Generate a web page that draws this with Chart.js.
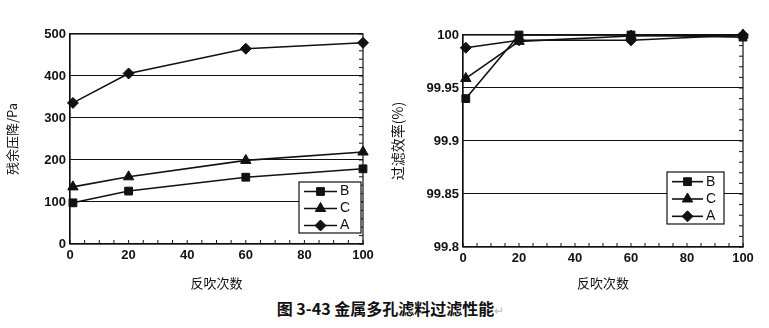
<!DOCTYPE html>
<html><head><meta charset="utf-8">
<script src="https://cdn.jsdelivr.net/npm/chart.js@4/dist/chart.umd.min.js"></script>
<style>
html,body{margin:0;padding:0;background:#fff;}
#wrap{position:relative;width:769px;height:328px;overflow:hidden;background:#fff;}
#c1{position:absolute;left:0;top:0;}
#c2{position:absolute;left:385px;top:0;}
#cap{position:absolute;left:6px;width:769px;top:296px;text-align:center;font-family:"Noto Sans CJK SC";font-weight:700;font-size:16px;color:#111;}
#cap span{color:#bbb;font-weight:400;font-size:12px;}
</style></head><body>
<div id="wrap">
<canvas id="c1" width="385" height="295"></canvas>
<canvas id="c2" width="384" height="295"></canvas>
<div id="cap">图 3-43 金属多孔滤料过滤性能<span>↵</span></div>
</div>
<script>
const blowCounts = [1, 20, 60, 100];
const xTickLabels = ['0', '20', '40', '60', '80', '100'];
const seriesNames = ['B', 'C', 'A'];
const pressureB = [98, 126, 159, 179];
const pressureC = [136, 160, 199, 219];
const pressureA = [336, 406, 465, 479];
const pressureTicks = ['0', '100', '200', '300', '400', '500'];
const effB = [99.940, 100.000, 100.000, 99.998];
const effC = [99.959, 99.994, 99.999, 100.000];
const effA = [99.988, 99.995, 99.995, 100.000];
const effTicks = ['99.8', '99.85', '99.9', '99.95', '100'];

const markers = ['rect', 'triangle', 'rectRot'];
const radii = [5.5, 6, 5.5];

function mkDatasets(arrs){
  return arrs.map((d,i)=>({
    label: seriesNames[i],
    data: d.map((v,j)=>({x: blowCounts[j], y: v})),
    borderColor:'#111', backgroundColor:'#111', borderWidth:1.6,
    pointBackgroundColor:'#111', pointBorderColor:'#111', pointBorderWidth:1,
    pointStyle: markers[i], pointRadius: radii[i], pointHoverRadius: radii[i],
    tension:0, clip:false
  }));
}

const boxPlugin = {
  id:'boxPlugin',
  afterDatasetsDraw(chart, args, opts){
    const ctx = chart.ctx, a = chart.chartArea;
    ctx.save();
    ctx.strokeStyle = '#111'; ctx.lineWidth = 1.2;
    ctx.strokeRect(a.left, a.top, a.right - a.left, a.bottom - a.top);
    const xs = chart.scales.x;
    ctx.lineWidth = 1;
    const nY = opts.minorY;
    for (let i=0;i<=nY;i++){
      const py = a.top + (a.bottom-a.top)*i/nY;
      ctx.beginPath(); ctx.moveTo(a.right-4, py); ctx.lineTo(a.right, py); ctx.stroke();
    }
    for (let v=0; v<=100; v+=5){
      const px = xs.getPixelForValue(v);
      ctx.beginPath(); ctx.moveTo(px, a.bottom); ctx.lineTo(px, a.bottom-4); ctx.stroke();
    }
    const L = opts.legend;
    const bx = a.right - L.right - L.w, by = a.bottom - L.bottom - L.h;
    ctx.fillStyle = '#fff';
    ctx.fillRect(bx, by, L.w, L.h);
    ctx.strokeStyle = '#111'; ctx.lineWidth = 1.2;
    ctx.strokeRect(bx, by, L.w, L.h);
    chart.data.datasets.forEach((ds, i)=>{
      const ry = by + L.h*(i+0.5)/3 + 1;
      ctx.strokeStyle = '#111';
      ctx.beginPath(); ctx.lineWidth = 1.6;
      ctx.moveTo(bx+5, ry); ctx.lineTo(bx+L.lineW, ry); ctx.stroke();
      ctx.fillStyle = '#111'; ctx.lineWidth = 1;
      Chart.helpers.drawPoint(ctx, {pointStyle: ds.pointStyle, radius: ds.pointRadius, borderWidth: 1}, bx + 5 + (L.lineW-5)/2, ry);
      ctx.fillStyle = '#111';
      ctx.font = '14px "Liberation Sans"';
      ctx.textBaseline = 'middle';
      ctx.fillText(ds.label, bx + L.lineW + 3, ry);
    });
    ctx.restore();
  }
};

function mkOptions(cfg){
  return {
    responsive:false, animation:false,
    layout:{padding:{top:cfg.top, right:cfg.right, left:0, bottom:0}},
    plugins:{legend:{display:false}, tooltip:{enabled:false}, boxPlugin: cfg.box},
    scales:{
      x:{type:'linear', min:0, max:100,
        ticks:{stepSize:20, color:'#111', font:{family:'Liberation Sans', size:13, weight:'bold'}, padding:4,
          callback:(v)=>{const i = Math.round(v/20); return (Math.abs(v-i*20)<1e-6 && xTickLabels[i]!==undefined)? xTickLabels[i] : '';}},
        grid:{display:false, drawTicks:false},
        border:{color:'#111', width:1.2},
        title:{display:true, text:'反吹次数', color:'#111', font:{family:'Noto Sans CJK SC', size:13}, padding:{top:6}},
        afterFit:(s)=>{s.height = cfg.xh;}
      },
      y:{type:'linear', min:cfg.ymin, max:cfg.ymax,
        ticks:{stepSize:cfg.step, color:'#111', font:{family:'Liberation Sans', size:13, weight:'bold'}, padding:4,
          callback:(v)=>{const i = Math.round((v-cfg.ymin)/cfg.step); return cfg.ticks[i] !== undefined ? cfg.ticks[i] : '';}},
        grid:{color:'#111', lineWidth:1.1, drawTicks:false},
        border:{color:'#111', width:1.2},
        title:{display:true, text:cfg.ytitle, color:'#111', font:{family:'Noto Sans CJK SC', size:cfg.ytsize}, padding:{bottom:4}},
        afterFit:(s)=>{s.width = cfg.yw;}
      }
    }
  };
}

new Chart(document.getElementById('c1'), {
  type:'line',
  data:{datasets: mkDatasets([pressureB, pressureC, pressureA])},
  options: mkOptions({top:34, right:22, xh:51, yw:70, ymin:0, ymax:500, step:100, ticks:pressureTicks,
    ytitle:'残余压降/Pa', ytsize:13, box:{minorY:25, legend:{w:62, h:51, right:2, bottom:11, lineW:38}}}),
  plugins:[boxPlugin]
});

new Chart(document.getElementById('c2'), {
  type:'line',
  data:{datasets: mkDatasets([effB, effC, effA])},
  options: mkOptions({top:35, right:26, xh:48, yw:78, ymin:99.8, ymax:100, step:0.05, ticks:effTicks,
    ytitle:'过滤效率(%)', ytsize:14, box:{minorY:20, legend:{w:57, h:52, right:19, bottom:23, lineW:36}}}),
  plugins:[boxPlugin]
});
</script>
</body></html>
